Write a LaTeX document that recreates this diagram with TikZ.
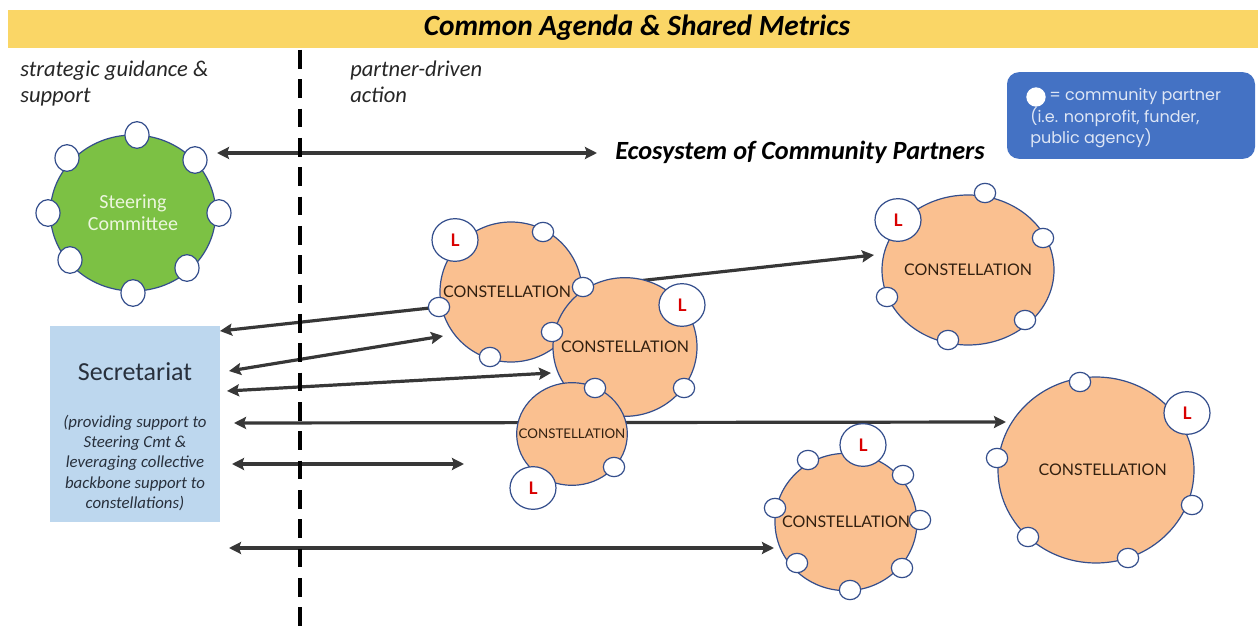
\documentclass[tikz,border=0pt]{standalone}
\usepackage{fontspec}
\setmainfont{Carlito}
\newfontfamily\gill{Lato}
\newfontfamily\goth{Poppins}
\usetikzlibrary{arrows.meta,shapes.geometric}
\definecolor{band}{RGB}{250,214,102}
\definecolor{edge}{RGB}{52,78,140}
\definecolor{orangefill}{RGB}{250,192,144}
\definecolor{greenfill}{RGB}{124,193,68}
\definecolor{secfill}{RGB}{189,215,238}
\definecolor{legfill}{RGB}{68,114,196}
\definecolor{arrowc}{RGB}{55,55,55}
\definecolor{ctextc}{RGB}{50,32,16}
\definecolor{sectext}{RGB}{40,48,60}
\definecolor{legtextc}{RGB}{222,230,245}
\definecolor{sctext}{RGB}{236,246,222}
\pgfdeclarelayer{bg}
\pgfsetlayers{bg,main}
\begin{document}
\begin{tikzpicture}[x=0.75pt,y=-0.75pt,
  sat/.style={ellipse,draw=edge,fill=white,line width=0.9pt,minimum width=16pt,minimum height=14.5pt,inner sep=0pt},
  bigsat/.style={ellipse,draw=edge,fill=white,line width=0.9pt,minimum width=18pt,minimum height=20pt,inner sep=0pt},
  lsat/.style={ellipse,draw=edge,fill=white,line width=0.9pt,minimum width=34.5pt,minimum height=32pt,inner sep=0pt,text=red!85!black,font=\gill\bfseries\fontsize{13}{13}\selectfont},
  const/.style={ellipse,draw=edge,fill=orangefill,line width=0.9pt,inner sep=0pt},
  ctext/.style={text=ctextc,font=\gill\fontsize{12}{12}\selectfont,inner sep=0pt},
  link/.style={draw=arrowc,line width=2.4pt,{Stealth[length=9pt,width=9pt,inset=1.5pt]}-{Stealth[length=9pt,width=9pt,inset=1.5pt]}},
  onelink/.style={draw=arrowc,line width=2.4pt,-{Stealth[length=9pt,width=9pt,inset=1.5pt]}},
  hint/.style={font=\itshape\fontsize{16.9}{19}\selectfont,align=left,anchor=north west,inner sep=0pt,text=black!85}
]
\useasboundingbox (0,0) rectangle (1258,631);
% band
\node[fill=band,minimum width=937.5pt,minimum height=28.5pt,inner sep=0pt] (band) at (633,29) {};
\node[font=\bfseries\itshape\fontsize{22}{22}\selectfont] (agenda) at (637,28) {Common Agenda \& Shared Metrics};
% dashed divider
\coordinate (dtop) at (300,50);
\coordinate (dbot) at (300,631);
\draw[line width=2.3pt,dash pattern=on 14pt off 8pt] (dtop) -- (dbot);
% hints
\node[hint] (strat) at (20,61) {strategic guidance \&\\support};
\node[hint] (partner) at (350,61) {partner-driven\\action};
% legend
\node[fill=legfill,rounded corners=9pt,minimum width=186pt,minimum height=65pt,inner sep=0pt] (legend) at (1131,115.5) {};
\node[circle,fill=white,minimum size=14.5pt,inner sep=0pt] (legdot) at (1036,97) {};
\node[anchor=west,text=legtextc,font=\goth\fontsize{12}{16}\selectfont,inner sep=0pt] (legtxt1) at (1049,96) {= community partner};
\node[anchor=north west,align=left,text=legtextc,font=\goth\fontsize{12}{16}\selectfont,inner sep=0pt] (legtxt2) at (1030,107) {(i.e. nonprofit, funder,\\public agency)};
% steering committee
\node[ellipse,draw=edge,fill=greenfill,line width=0.9pt,minimum width=124pt,minimum height=117pt,inner sep=0pt,align=center,text=sctext,font=\fontsize{15}{16.5}\selectfont] (steer) at (133,213) {Steering\\Committee};
\node[bigsat] (ss1) at (137,135) {};
\node[bigsat] (ss2) at (195,160) {};
\node[bigsat] (ss3) at (219,213) {};
\node[bigsat] (ss4) at (187,268) {};
\node[bigsat] (ss5) at (133,293) {};
\node[bigsat] (ss6) at (70,260) {};
\node[bigsat] (ss7) at (48,213) {};
\node[bigsat] (ss8) at (67,158) {};
% ecosystem
\node[anchor=west,font=\bfseries\itshape\fontsize{19.7}{19.7}\selectfont,inner sep=0pt] (eco) at (615,152) {Ecosystem of Community Partners};
% secretariat
\node[fill=secfill,minimum width=127.5pt,minimum height=147pt,inner sep=0pt] (sec) at (135,424) {};
\node[text=sectext,font=\fontsize{19.5}{19.5}\selectfont,inner sep=0pt] (sectitle) at (135,372) {Secretariat};
\node[text=sectext,align=center,font=\itshape\fontsize{12.6}{15.2}\selectfont,inner sep=0pt] (secdesc) at (135,463) {(providing support to\\Steering Cmt \&\\leveraging collective\\backbone support to\\constellations)};
% constellations
\node[const,minimum width=106.5pt,minimum height=105pt,label={[ctext,xshift=-3pt]center:CONSTELLATION}] (c1) at (511,292) {};
\node[const,minimum width=108pt,minimum height=104pt,label={[ctext]center:CONSTELLATION}] (c2) at (625,347) {};
\node[const,minimum width=83pt,minimum height=77pt,label={[ctext,font=\gill\fontsize{10}{10}\selectfont]center:CONSTELLATION}] (c3) at (572,434) {};
\node[const,minimum width=129pt,minimum height=112.5pt,label={[ctext]center:CONSTELLATION}] (c4) at (968,270) {};
\node[const,minimum width=106.5pt,minimum height=103pt,label={[ctext]center:CONSTELLATION}] (c5) at (846,522) {};
\node[const,minimum width=147pt,minimum height=139.5pt,label={[ctext,xshift=5pt]center:CONSTELLATION}] (c6) at (1096,470) {};
% satellites c1
\node[lsat] (c1l) at (455,240) {L};
\node[sat] (c1s1) at (543,232) {};
\node[sat] (c1s2) at (583,287) {};
\node[sat] (c1s3) at (439,307) {};
\node[sat] (c1s4) at (490,357) {};
% c2
\node[lsat] (c2l) at (682,305) {L};
\node[sat] (c2s1) at (552,332) {};
\node[sat] (c2s2) at (595,388) {};
\node[sat] (c2s3) at (684,388) {};
% c3
\node[lsat] (c3l) at (533,488) {L};
\node[sat] (c3s1) at (614,467) {};
% c4
\node[lsat] (c4l) at (898,220) {L};
\node[sat] (c4s1) at (985,193) {};
\node[sat] (c4s2) at (1043,238) {};
\node[sat] (c4s3) at (887,297) {};
\node[sat] (c4s4) at (1025,320) {};
\node[sat] (c4s5) at (948,340) {};
% c5
\node[lsat] (c5l) at (863,445) {L};
\node[sat] (c5s1) at (808,460) {};
\node[sat] (c5s2) at (903,475) {};
\node[sat] (c5s3) at (775,508) {};
\node[sat] (c5s4) at (920,520) {};
\node[sat] (c5s5) at (797,563) {};
\node[sat] (c5s6) at (902,568) {};
\node[sat] (c5s7) at (850,590) {};
% c6
\node[lsat] (c6l) at (1187,413) {L};
\node[sat] (c6s1) at (1080,382) {};
\node[sat] (c6s2) at (997,458) {};
\node[sat] (c6s3) at (1192,505) {};
\node[sat] (c6s4) at (1028,537) {};
\node[sat] (c6s5) at (1128,558) {};
% arrow end points
\coordinate (ecoL) at (217,153);
\coordinate (ecoR) at (597,153);
\coordinate (a1) at (220,331);
\coordinate (a2l) at (229,371);
\coordinate (a2r) at (443,336);
\coordinate (a3l) at (227,391);
\coordinate (a3r) at (551,373);
\coordinate (a4l) at (234,423);
\coordinate (a4r) at (1006,422);
\coordinate (a5l) at (232,464);
\coordinate (a5r) at (464,464);
\coordinate (a6l) at (229,548);
\coordinate (a6r) at (774,548);
\coordinate (a7) at (874,255);
\begin{pgfonlayer}{bg}
\draw[link] (ecoL) -- (ecoR);
\draw[onelink] (c1s3.center) -- (a1);
\draw[link] (a2l) -- (a2r);
\draw[link] (a3l) -- (a3r);
\draw[link] (a4l) -- (a4r);
\draw[link] (a5l) -- (a5r);
\draw[link] (a6l) -- (a6r);
\draw[onelink] (c1s2.center) -- (a7);
\end{pgfonlayer}
\end{tikzpicture}
\end{document}
